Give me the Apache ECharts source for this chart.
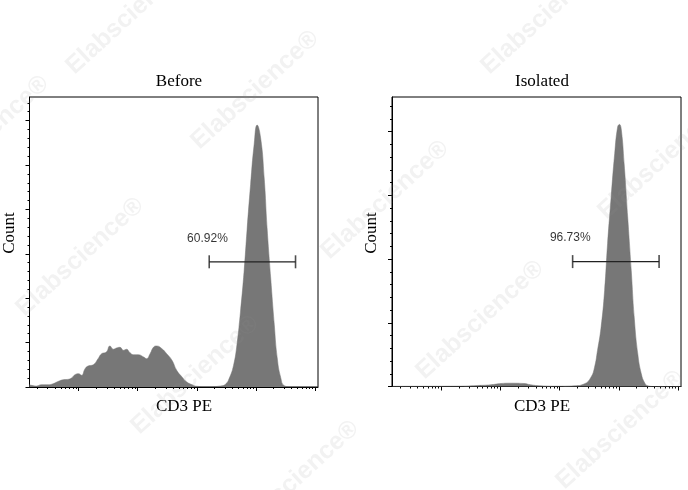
<!DOCTYPE html>
<html><head><meta charset="utf-8">
<script src="https://cdn.jsdelivr.net/npm/echarts@6/dist/echarts.min.js"></script>
<style>html,body{margin:0;padding:0;background:#fff}#c{width:688px;height:490px}</style>
</head><body><div id="c"></div>
<script>
// ---- data ----
const panelTitles = ['Before', 'Isolated'];
const xAxisName = 'CD3 PE';
const yAxisName = 'Count';
const majorDecades = [0, 1, 2, 3, 4];

const beforeX = [-0.83,-0.80,-0.71,-0.63,-0.51,-0.43,-0.34,-0.26,-0.17,-0.12,-0.06,0.00,0.05,0.11,0.16,0.25,0.33,0.39,0.47,0.53,0.59,0.64,0.70,0.76,0.81,0.87,0.93,1.01,1.10,1.15,1.21,1.27,1.32,1.41,1.49,1.58,1.66,1.75,1.83,1.92,2.00,2.20,2.40,2.49,2.55,2.62,2.68,2.74,2.80,2.85,2.91,2.97,3.02,3.08,3.14,3.19,3.25,3.31,3.36,3.42,3.48,3.60,4.05];
const beforeY = [2.6,1.9,1.1,2.6,2.6,3.7,6.4,8.2,8.7,10.1,13.9,15,13.2,20.6,23.6,25.1,31.9,37.5,39.4,46.2,42.5,43.9,44.7,41.3,42.5,38.6,36.4,36.4,33.8,31.9,37.5,45,46.2,43.1,37.5,30.1,18.8,11.3,5.6,2.6,0.8,0.3,1.1,3.4,10,24,48.1,85.6,130.6,177,228.2,273.3,295,280.4,235.3,178,122.7,70.6,33,10.5,1.5,0,0];

const isolatedX = [-0.82,0.27,0.61,0.84,1.01,1.17,1.40,1.51,1.68,1.97,2.25,2.42,2.53,2.59,2.64,2.70,2.76,2.81,2.87,2.93,2.98,3.01,3.04,3.09,3.15,3.21,3.26,3.32,3.38,3.44,3.49,3.60,4.05];
const isolatedY = [0.3,0.5,1.6,2.7,4.7,5.2,4.7,2.7,1.1,0.5,1.1,4.2,14.6,30.3,56.5,92.6,150.7,224,296.7,365.3,407.1,411.3,404.6,349.6,265.8,182.1,108.8,51.3,19.9,5.2,1.1,0,0];

const gateLabels = ['60.92%', '96.73%'];
const gateStart = [2.21, 2.22];
const gateEnd = [3.67, 3.68];
const gateLevel = [141, 196];
const gateLabelAt = [[2.18, 167], [2.18, 233]];

const yMax = [326.6, 454.3];
const yStep = [50, 100];
const watermark = 'Elabscience';

// ---- build ----
const xMin = -0.83, xMax = 4.05;
const minorX = [];
for (let d = -1; d <= 4; d++) for (let k = 2; k <= 9; k++) {
  const v = d + Math.log10(k);
  if (v > xMin && v < xMax) minorX.push(v);
}
function yTicks(max, step, minor) {
  const out = [];
  const s = minor ? step / 5 : step;
  for (let v = 0; v <= max + 1e-9; v += s) {
    const isMajor = Math.abs(v / step - Math.round(v / step)) < 1e-6;
    if (minor ? !isMajor : true) out.push(+v.toFixed(4));
  }
  return out;
}

const grids = [
  { left: 29.5, top: 97, width: 288.5, height: 290 },
  { left: 392, top: 97, width: 289, height: 289.5 }
];
const xAxes = [], yAxes = [], series = [];
const black = '#000';
const panels = [[beforeX, beforeY], [isolatedX, isolatedY]];
grids.forEach((g, i) => {
  g.show = true; g.borderColor = black; g.borderWidth = 1; g.backgroundColor = 'transparent';
  xAxes.push({ gridIndex: i, type: 'value', min: xMin, max: xMax, position: 'bottom',
    axisLine: { show: true, onZero: false, lineStyle: { color: black, width: 1 } },
    axisTick: { show: true, customValues: majorDecades, length: 4, lineStyle: { color: black } },
    axisLabel: { show: false }, splitLine: { show: false } });
  xAxes.push({ gridIndex: i, type: 'value', min: xMin, max: xMax, position: 'bottom', offset: 0,
    axisLine: { show: false, onZero: false },
    axisTick: { show: true, customValues: minorX, length: 2, lineStyle: { color: black } },
    axisLabel: { show: false }, splitLine: { show: false } });
  yAxes.push({ gridIndex: i, type: 'value', min: 0, max: yMax[i], position: 'left',
    axisLine: { show: true, onZero: false, lineStyle: { color: black, width: 1 } },
    axisTick: { show: true, customValues: yTicks(yMax[i], yStep[i], false), length: 4, lineStyle: { color: black } },
    axisLabel: { show: false }, splitLine: { show: false } });
  yAxes.push({ gridIndex: i, type: 'value', min: 0, max: yMax[i], position: 'left', offset: 0,
    axisLine: { show: false, onZero: false },
    axisTick: { show: true, customValues: yTicks(yMax[i], yStep[i], true), length: 2, lineStyle: { color: black } },
    axisLabel: { show: false }, splitLine: { show: false } });

  const [xs, ys] = panels[i];
  series.push({ type: 'line', xAxisIndex: 2 * i, yAxisIndex: 2 * i,
    data: xs.map((x, j) => [x, ys[j]]), showSymbol: false, symbol: 'none',
    smooth: 0.5,
    lineStyle: { color: '#777777', width: 0.5 },
    areaStyle: { color: '#777777', opacity: 1 }, z: 2 });
  series.push({ type: 'line', xAxisIndex: 2 * i, yAxisIndex: 2 * i,
    data: [[gateStart[i], gateLevel[i]], [gateEnd[i], gateLevel[i]]], symbol: 'none',
    lineStyle: { color: '#222', width: 1.3 }, z: 4 });
  series.push({ type: 'scatter', xAxisIndex: 2 * i, yAxisIndex: 2 * i,
    data: [[gateStart[i], gateLevel[i]], [gateEnd[i], gateLevel[i]]],
    symbol: 'rect', symbolSize: [1.6, 13], itemStyle: { color: '#222' }, z: 4 });
  series.push({ type: 'scatter', xAxisIndex: 2 * i, yAxisIndex: 2 * i,
    data: [gateLabelAt[i]], symbolSize: 0,
    label: { show: true, position: 'inside', formatter: gateLabels[i], color: '#000',
      fontSize: 12, fontFamily: 'Liberation Sans' }, z: 5 });
});

const textEls = [
  { x: 179, y: 81.5, t: panelTitles[0] },
  { x: 542, y: 81.5, t: panelTitles[1] },
  { x: 184, y: 406.5, t: xAxisName },
  { x: 542, y: 406.5, t: xAxisName },
  { x: 9.5, y: 233, t: yAxisName, r: Math.PI / 2 },
  { x: 371.5, y: 233, t: yAxisName, r: Math.PI / 2 }
].map(o => ({ type: 'text', x: o.x, y: o.y, rotation: o.r || 0, z: 10,
  style: { text: o.t, fill: '#000', font: '17px "Liberation Serif"', align: 'center', verticalAlign: 'middle' } }));

const wmCenters = [[130,15],[-15,135],[255,90],[80,257],[385,200],[545,15],[662,160],[195,375],[295,480],[480,320],[620,430]];
const wmEls = wmCenters.map(c => ({ type: 'text', x: c[0], y: c[1], rotation: 0.74, z: 20, silent: true,
  style: { text: watermark + '®', fill: 'rgba(150,150,150,0.12)', font: 'bold 25px "Liberation Sans"',
    align: 'center', verticalAlign: 'middle' } }));

const chart = echarts.init(document.getElementById('c'), null, { renderer: 'canvas' });
chart.setOption({
  animation: false,
  backgroundColor: '#fff',
  grid: grids, xAxis: xAxes, yAxis: yAxes, series: series,
  graphic: textEls.concat(wmEls)
});
</script></body></html>
